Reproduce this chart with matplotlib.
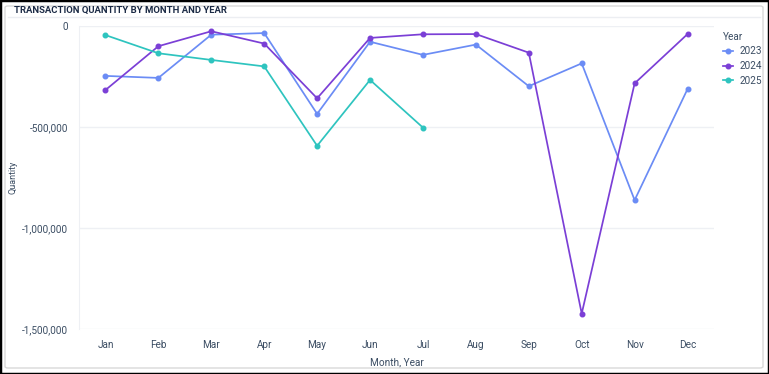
import matplotlib
matplotlib.use("Agg")
import matplotlib.pyplot as plt
from matplotlib.lines import Line2D
from matplotlib.patches import FancyBboxPatch, Rectangle
from matplotlib.ticker import FuncFormatter

plt.rcParams['font.family'] = ['Roboto', 'DejaVu Sans']

months = ["Jan", "Feb", "Mar", "Apr", "May", "Jun", "Jul", "Aug", "Sep", "Oct", "Nov", "Dec"]
q2023 = [-247000, -257000, -43000, -35000, -435000, -78000, -143000, -92000, -298000, -185000, -862000, -312000]
q2024 = [-317000, -100000, -26000, -87000, -358000, -59000, -41000, -40000, -132000, -1424000, -284000, -40000]
q2025 = [-45000, -135000, -168000, -200000, -593000, -267000, -503000]
years = ["2023", "2024", "2025"]
colors = ["#6b8cf5", "#7b3fd6", "#2ec4bf"]

W, H = 769, 374
fig = plt.figure(figsize=(W / 100, H / 100), dpi=100)

# outer frame
fig.patches.append(Rectangle((0, 0), 1, 1, transform=fig.transFigure, fill=False,
                             edgecolor="black", linewidth=2.5))
fig.patches.append(FancyBboxPatch((5 / W, 6 / H), 758 / W, 362 / H, transform=fig.transFigure,
                                  boxstyle="round,pad=0,rounding_size=0.004", fill=False,
                                  edgecolor="#d9d9d9", linewidth=1.0))
fig.add_artist(Line2D([8 / W, 760 / W], [1 - 17 / H, 1 - 17 / H], transform=fig.transFigure,
                      color="#eceef2", linewidth=1.0))
fig.text(14 / W, 1 - 10 / H, "TRANSACTION QUANTITY BY MONTH AND YEAR", fontsize=6.8,
         fontweight="bold", color="#1b2a45", va="center", ha="left")

ax = fig.add_axes([79 / W, 1 - 329 / H, 635 / W, 303 / H])
x = list(range(len(months)))
for vals, yr, c in zip([q2023, q2024, q2025], years, colors):
    ax.plot(x[:len(vals)], vals, color=c, linewidth=1.25, marker="o", markersize=3.3,
            label=yr, clip_on=False, zorder=3)

ax.set_xlim(-0.5, 11.5)
ax.set_ylim(-1500000, 0)
ax.set_yticks([0, -500000, -1000000, -1500000])
ax.yaxis.set_major_formatter(FuncFormatter(lambda v, p: "0" if v == 0 else f"{int(v):,}"))
ax.set_xticks(x)
ax.set_xticklabels(months)
ax.grid(axis="y", color="#eef0f4", linewidth=1.0)
ax.set_axisbelow(True)
for s in ["top", "right", "bottom"]:
    ax.spines[s].set_visible(False)
ax.spines["left"].set_color("#eef0f4")
ax.tick_params(axis="both", length=0, labelsize=7.2, colors="#3b4d63")
ax.tick_params(axis="x", pad=8)
ax.tick_params(axis="y", pad=8)
ax.set_xlabel("Month, Year", fontsize=7.2, color="#3b4d63", labelpad=5)
ax.set_ylabel("Quantity", fontsize=6.5, color="#3b4d63")
ax.yaxis.set_label_coords((18 - 79) / 635, 0.5)

handles = [Line2D([0], [0], color=c, marker="o", markersize=3.3, linewidth=1.25) for c in colors]
leg = ax.legend(handles, years, title="Year", loc="upper left", bbox_to_anchor=(1.005, 1.0),
                frameon=False, fontsize=7.2, title_fontsize=7.2, handlelength=1.0,
                handletextpad=0.6, labelspacing=0.45, borderaxespad=0.2)
leg._legend_box.align = "left"
for t in leg.get_texts():
    t.set_color("#3b4d63")
leg.get_title().set_color("#3b4d63")

fig.savefig("out.png", dpi=100)
